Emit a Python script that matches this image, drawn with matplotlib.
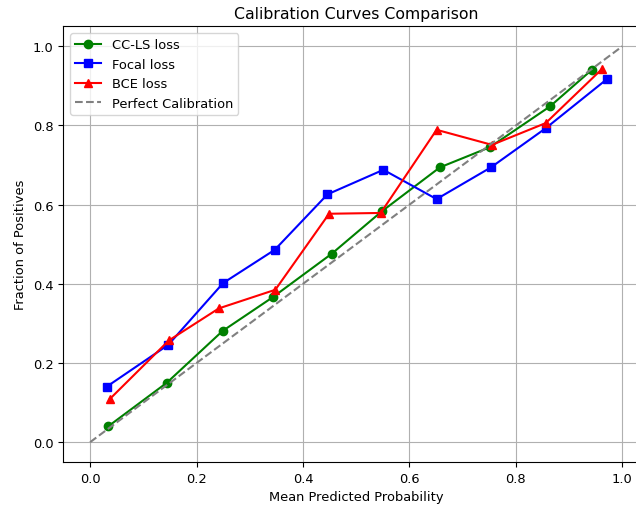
import matplotlib
matplotlib.use("Agg")
import matplotlib.pyplot as plt

ccls_x = [0.034, 0.144, 0.249, 0.343, 0.454, 0.548, 0.657, 0.751, 0.864, 0.943]
ccls_y = [0.040, 0.150, 0.281, 0.366, 0.476, 0.583, 0.694, 0.745, 0.848, 0.941]

focal_x = [0.031, 0.147, 0.250, 0.347, 0.446, 0.551, 0.651, 0.753, 0.856, 0.971]
focal_y = [0.140, 0.246, 0.402, 0.486, 0.626, 0.688, 0.614, 0.694, 0.793, 0.917]

bce_x = [0.037, 0.148, 0.242, 0.348, 0.449, 0.546, 0.651, 0.755, 0.856, 0.962]
bce_y = [0.109, 0.257, 0.338, 0.385, 0.577, 0.579, 0.789, 0.751, 0.806, 0.943]

perfect = [0, 1]

plt.rcParams['font.size'] = 9.4

fig = plt.figure(figsize=(6.36, 5.06), dpi=100)
ax = fig.add_axes([0.0998, 0.085, 0.9206, 0.8607])
ax.plot(ccls_x, ccls_y, marker='o', color='green', label='CC-LS loss')
ax.plot(focal_x, focal_y, marker='s', color='blue', label='Focal loss')
ax.plot(bce_x, bce_y, marker='^', color='red', label='BCE loss')
ax.plot(perfect, perfect, '--', color='gray', label='Perfect Calibration')
ax.set_xlim(-0.05, 1.05)
ax.set_ylim(-0.05, 1.05)
ax.set_xlabel('Mean Predicted Probability')
ax.set_ylabel('Fraction of Positives')
ax.set_title('Calibration Curves Comparison', fontsize=11.3)
ax.legend(loc='upper left')
ax.grid(True)
fig.savefig('out.png', dpi=100)
